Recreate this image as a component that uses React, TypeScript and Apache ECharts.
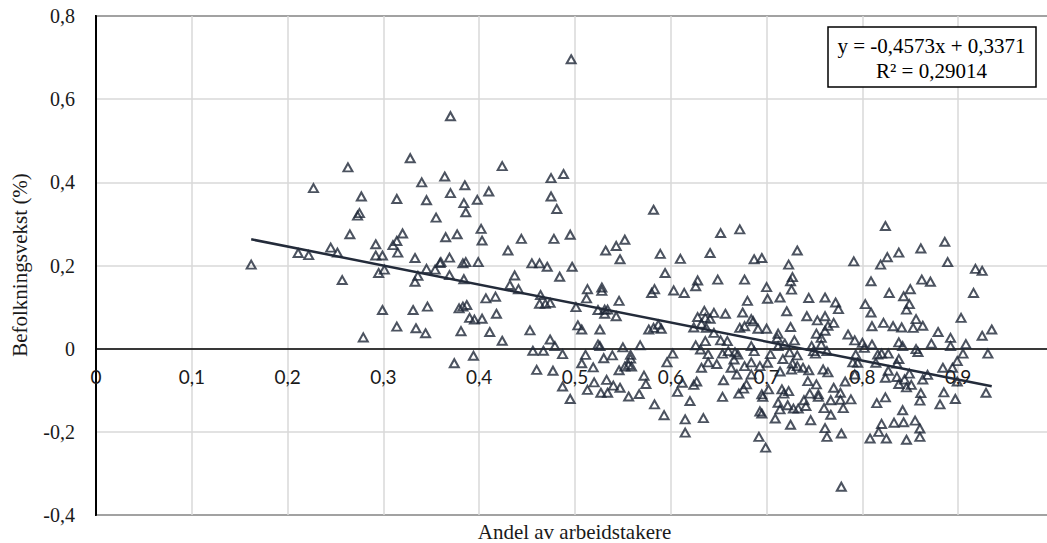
import React, { useEffect, useRef } from 'react';
import * as echarts from 'echarts';

// [andel av arbeidstakere, befolkningsvekst (%)]
const punkter: [number, number][] = [
  [0.162,0.202],[0.227,0.386],[0.211,0.230],[0.222,0.225],[0.263,0.436],[0.245,0.243],[0.252,0.231],[0.257,0.165],
  [0.265,0.275],[0.277,0.366],[0.275,0.326],[0.273,0.320],[0.279,0.027],[0.292,0.251],[0.292,0.224],[0.299,0.224],
  [0.295,0.182],[0.301,0.190],[0.299,0.093],[0.314,0.360],[0.328,0.458],[0.340,0.400],[0.345,0.357],[0.355,0.315],
  [0.310,0.249],[0.314,0.259],[0.320,0.277],[0.315,0.231],[0.333,0.218],[0.336,0.175],[0.333,0.161],[0.345,0.192],
  [0.354,0.190],[0.359,0.206],[0.331,0.093],[0.346,0.101],[0.314,0.053],[0.334,0.049],[0.344,0.037],
  [0.364,0.414],[0.370,0.559],[0.370,0.374],[0.385,0.393],[0.384,0.350],[0.386,0.328],[0.398,0.358],[0.410,0.378],
  [0.424,0.439],[0.365,0.268],[0.377,0.275],[0.402,0.288],[0.403,0.260],[0.360,0.208],[0.369,0.219],[0.383,0.205],
  [0.386,0.208],[0.399,0.208],[0.369,0.177],[0.384,0.167],[0.430,0.236],[0.444,0.264],[0.437,0.176],[0.432,0.153],
  [0.441,0.143],[0.455,0.205],[0.463,0.205],[0.471,0.197],[0.478,0.264],[0.495,0.274],[0.497,0.197],[0.484,0.173],
  [0.475,0.410],[0.488,0.420],[0.475,0.366],[0.481,0.336],[0.496,0.696],[0.407,0.121],[0.417,0.125],[0.464,0.129],
  [0.513,0.143],[0.512,0.121],[0.528,0.147],[0.528,0.139],[0.532,0.236],[0.543,0.247],[0.552,0.262],[0.547,0.215],
  [0.379,0.097],[0.383,0.101],[0.387,0.105],[0.390,0.074],[0.395,0.070],[0.403,0.072],[0.418,0.084],[0.381,0.042],
  [0.411,0.040],[0.424,0.019],[0.374,-0.035],[0.394,-0.017],[0.453,0.044],[0.456,-0.005],[0.467,-0.005],[0.460,-0.051],
  [0.474,0.022],[0.479,0.006],[0.477,-0.053],[0.487,-0.013],[0.487,-0.091],[0.495,-0.121],[0.463,0.108],[0.469,0.108],
  [0.474,0.110],[0.501,0.100],[0.546,0.115],[0.524,0.093],[0.531,0.094],[0.534,0.094],[0.531,0.084],[0.543,0.078],
  [0.503,0.056],[0.507,0.046],[0.526,0.046],[0.524,0.010],[0.526,0.006],[0.550,0.003],[0.568,0.008],[0.511,-0.015],
  [0.507,-0.035],[0.519,-0.045],[0.530,-0.023],[0.539,-0.016],[0.558,-0.015],[0.558,-0.024],[0.556,-0.039],[0.552,-0.043],
  [0.559,-0.043],[0.546,-0.052],[0.520,-0.081],[0.533,-0.075],[0.540,-0.089],[0.547,-0.094],[0.513,-0.099],[0.527,-0.106],
  [0.534,-0.106],[0.556,-0.115],[0.567,-0.109],[0.572,-0.065],[0.574,-0.085],[0.577,0.046],
  [0.582,0.334],[0.589,0.228],[0.594,0.182],[0.610,0.216],[0.641,0.230],[0.652,0.278],[0.672,0.287],[0.687,0.215],
  [0.695,0.218],[0.732,0.236],[0.723,0.202],[0.791,0.210],[0.583,0.143],[0.580,0.134],[0.603,0.140],[0.614,0.134],
  [0.626,0.150],[0.628,0.164],[0.649,0.166],[0.677,0.166],[0.727,0.172],[0.725,0.162],[0.726,0.142],[0.700,0.148],
  [0.701,0.120],[0.714,0.123],[0.680,0.115],[0.744,0.122],[0.761,0.123],[0.772,0.111],[0.775,0.095],[0.721,0.090],
  [0.635,0.091],[0.645,0.086],[0.657,0.084],[0.675,0.087],[0.628,0.076],[0.636,0.074],[0.641,0.072],[0.632,0.060],
  [0.624,0.051],[0.637,0.050],[0.684,0.071],[0.686,0.066],[0.672,0.050],[0.677,0.054],[0.691,0.048],[0.700,0.048],
  [0.742,0.078],[0.753,0.068],[0.761,0.078],[0.764,0.055],[0.770,0.062],[0.725,0.052],[0.582,0.050],[0.587,0.058],
  [0.590,0.048],[0.645,0.038],[0.636,0.018],[0.652,0.020],[0.659,0.018],[0.626,0.008],[0.631,-0.002],[0.684,0.006],
  [0.712,0.036],[0.711,0.026],[0.719,0.012],[0.729,0.020],[0.752,0.036],[0.757,0.026],[0.761,0.043],[0.757,0.010],
  [0.747,0.006],[0.785,0.034],[0.712,0.006],[0.602,-0.012],[0.596,-0.033],[0.639,-0.013],[0.639,-0.033],[0.654,-0.012],
  [0.660,-0.006],[0.667,-0.009],[0.670,-0.014],[0.687,-0.006],[0.666,-0.026],[0.648,-0.037],[0.632,-0.046],[0.663,-0.046],
  [0.677,-0.042],[0.684,-0.033],[0.693,-0.042],[0.704,-0.013],[0.701,-0.034],[0.717,-0.025],[0.724,-0.009],[0.732,-0.016],
  [0.727,-0.036],[0.732,-0.042],[0.749,-0.006],[0.751,-0.012],[0.763,-0.006],[0.738,-0.046],[0.744,-0.052],[0.759,-0.050],
  [0.790,-0.033],
  [0.714,-0.055],[0.669,-0.062],[0.684,-0.062],[0.764,-0.057],[0.726,-0.050],[0.583,-0.134],[0.593,-0.160],[0.607,-0.104],
  [0.612,-0.082],[0.624,-0.087],[0.627,-0.079],[0.620,-0.126],[0.615,-0.170],[0.615,-0.202],[0.634,-0.167],[0.655,-0.076],
  [0.654,-0.116],[0.671,-0.108],[0.676,-0.096],[0.679,-0.086],[0.695,-0.110],[0.696,-0.116],[0.702,-0.098],[0.693,-0.151],
  [0.695,-0.156],[0.692,-0.212],[0.699,-0.238],[0.709,-0.168],[0.712,-0.130],[0.714,-0.146],[0.716,-0.098],[0.718,-0.108],
  [0.723,-0.102],[0.722,-0.136],[0.728,-0.144],[0.733,-0.144],[0.739,-0.124],[0.741,-0.138],[0.725,-0.183],[0.746,-0.172],
  [0.743,-0.078],[0.745,-0.108],[0.752,-0.086],[0.754,-0.110],[0.754,-0.116],[0.767,-0.124],[0.760,-0.143],[0.767,-0.159],
  [0.770,-0.094],[0.777,-0.106],[0.777,-0.123],[0.780,-0.143],[0.782,-0.079],[0.788,-0.122],[0.761,-0.191],[0.763,-0.212],
  [0.778,-0.204],[0.778,-0.332],[0.792,-0.062],
  [0.824,0.295],[0.819,0.202],[0.826,0.220],[0.838,0.231],[0.861,0.241],[0.886,0.257],[0.889,0.208],[0.918,0.192],
  [0.925,0.187],[0.916,0.134],[0.809,0.162],[0.828,0.134],[0.850,0.143],[0.862,0.166],[0.871,0.161],[0.843,0.126],
  [0.849,0.107],[0.846,0.094],[0.803,0.107],[0.809,0.087],[0.810,0.054],[0.822,0.062],[0.832,0.054],[0.841,0.051],
  [0.853,0.050],[0.856,0.071],[0.863,0.055],[0.879,0.040],[0.903,0.074],[0.925,0.031],[0.935,0.046],[0.892,0.026],
  [0.892,0.006],[0.908,0.011],[0.905,-0.012],[0.931,-0.012],[0.899,-0.030],[0.872,0.012],[0.856,-0.001],[0.858,-0.008],
  [0.842,0.006],[0.838,0.015],[0.810,0.010],[0.800,0.014],[0.792,0.020],[0.802,0.002],[0.793,-0.014],[0.795,-0.034],
  [0.816,-0.014],[0.820,-0.012],[0.827,-0.012],[0.838,-0.025],[0.836,-0.036],[0.814,-0.034],[0.884,-0.046],[0.894,-0.046],
  [0.827,-0.053],[0.824,-0.070],[0.836,-0.068],[0.838,-0.085],[0.844,-0.074],[0.846,-0.093],[0.849,-0.060],[0.851,-0.087],
  [0.863,-0.074],[0.868,-0.063],[0.861,-0.107],[0.860,-0.125],[0.824,-0.117],[0.815,-0.131],[0.842,-0.148],[0.820,-0.181],
  [0.833,-0.178],[0.843,-0.177],[0.855,-0.173],[0.860,-0.192],[0.817,-0.200],[0.808,-0.216],[0.825,-0.216],[0.846,-0.219],
  [0.860,-0.212],[0.885,-0.105],[0.881,-0.134],[0.897,-0.121],[0.899,-0.079],[0.929,-0.106],
];

// Linear trend line (as stated in the chart)
const trendSlope = -0.4573;
const trendIntercept = 0.3371;
const equationLabel = 'y = -0,4573x + 0,3371';
const r2Label = 'R² = 0,29014';

const xTitle = 'Andel av arbeidstakere';
const yTitle = 'Befolkningsvekst (%)';

const xRange = [0, 1];
const yRange = [-0.4, 0.8];

const commaFmt = (v: number) => String(Math.round(v * 10) / 10).replace('.', ',');

const SERIF = '"Liberation Serif", "Times New Roman", serif';

// The reference's plot area runs past the right edge of the 1047px picture,
// so the chart canvas is a bit wider than the page and the excess is clipped.
const CHART_W = 1062;
const CHART_H = 543;
const GRID_TOP = 16;
const GRID_BOTTOM = 28;

export default function App() {
  const ref = useRef<HTMLDivElement>(null);

  useEffect(() => {
    document.body.style.margin = '0';
    document.body.style.overflow = 'hidden';
    if (!ref.current) return;
    const chart = echarts.init(ref.current, null, { renderer: 'svg' });
    const xs = punkter.map((p) => p[0]);
    const xMin = Math.min(...xs);
    const xMax = Math.max(...xs);
    const gridLine = { show: true, lineStyle: { color: '#d9d9d9', width: 1.5 } };

    // place the x axis (line + labels) at y = 0, as in the reference
    const plotH = CHART_H - GRID_TOP - GRID_BOTTOM;
    const zeroFromBottom = plotH * ((0 - yRange[0]) / (yRange[1] - yRange[0]));

    chart.setOption({
      animation: false,
      backgroundColor: '#fff',
      grid: {
        left: 96,
        top: GRID_TOP,
        right: 8,
        bottom: GRID_BOTTOM,
        show: true,
        borderColor: '#000',
        borderWidth: 2,
      },
      xAxis: {
        type: 'value',
        min: xRange[0],
        max: xRange[1],
        interval: 0.1,
        offset: -zeroFromBottom,
        axisLine: { show: true, onZero: false, lineStyle: { color: '#000', width: 1.5 } },
        axisTick: { show: false },
        splitLine: gridLine,
        axisLabel: {
          formatter: commaFmt,
          fontFamily: 'Lato',
          fontSize: 19,
          color: '#1a1a1a',
          margin: 18,
          showMaxLabel: false,
        },
      },
      yAxis: {
        type: 'value',
        min: yRange[0],
        max: yRange[1],
        interval: 0.2,
        axisLine: { show: true, onZero: false, lineStyle: { color: '#000', width: 2 } },
        axisTick: { show: false },
        splitLine: gridLine,
        axisLabel: {
          formatter: commaFmt,
          fontFamily: SERIF,
          fontSize: 20,
          color: '#1a1a1a',
          margin: 21,
        },
      },
      series: [
        {
          type: 'scatter',
          data: punkter,
          symbol: 'triangle',
          symbolSize: [9, 8],
          itemStyle: { color: 'rgba(0,0,0,0)', borderColor: '#1f2838', borderWidth: 2 },
          z: 3,
        },
        {
          type: 'line',
          data: [
            [xMin, trendSlope * xMin + trendIntercept],
            [xMax, trendSlope * xMax + trendIntercept],
          ],
          symbol: 'none',
          lineStyle: { color: '#232b3a', width: 2.5 },
          z: 4,
        },
      ],
      graphic: [
        {
          type: 'rect',
          shape: { x: 828, y: 27, width: 208, height: 60 },
          style: { fill: '#fff', stroke: '#000', lineWidth: 1.5 },
          z: 10,
        },
        {
          type: 'text',
          x: 931.5,
          y: 46,
          z: 11,
          style: { text: equationLabel, fontFamily: SERIF, fontSize: 21, fill: '#000', align: 'center', verticalAlign: 'middle' },
        },
        {
          type: 'text',
          x: 931.5,
          y: 71,
          z: 11,
          style: { text: r2Label, fontFamily: SERIF, fontSize: 21, fill: '#000', align: 'center', verticalAlign: 'middle' },
        },
        {
          type: 'text',
          x: 574.5,
          y: 531.5,
          z: 11,
          style: { text: xTitle, fontFamily: SERIF, fontSize: 21, fill: '#1a1a1a', align: 'center', verticalAlign: 'middle' },
        },
        {
          type: 'text',
          x: 19.5,
          y: 265,
          rotation: Math.PI / 2,
          z: 11,
          style: { text: yTitle, fontFamily: SERIF, fontSize: 21, fill: '#1a1a1a', align: 'center', verticalAlign: 'middle' },
        },
      ],
    });
    return () => chart.dispose();
  }, []);

  return <div ref={ref} style={{ width: CHART_W, height: CHART_H }} />;
}
